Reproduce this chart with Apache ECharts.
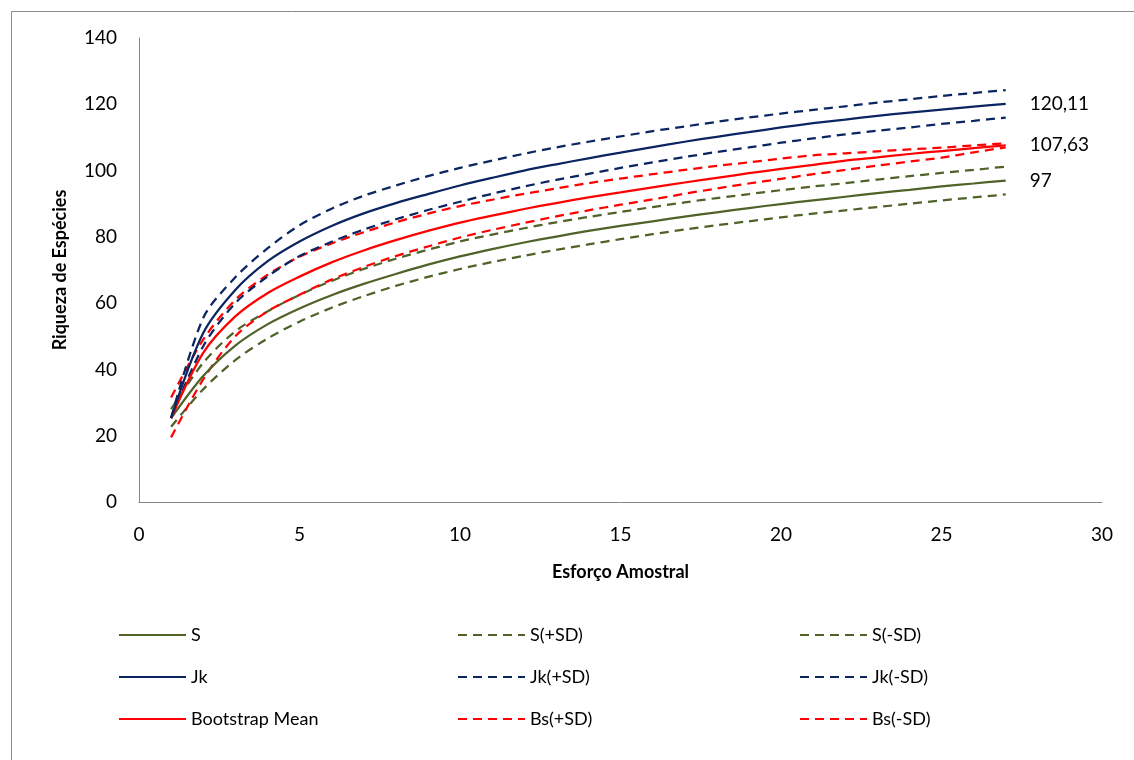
<!DOCTYPE html>
<html>
<head>
<meta charset="utf-8">
<script src="https://cdn.jsdelivr.net/npm/echarts@6/dist/echarts.min.js"></script>
<style>
html,body{margin:0;padding:0;background:#fff;}
#chart{width:1134px;height:760px;}
</style>
</head>
<body>
<div id="chart"></div>
<script>
const xs = [1,2,3,4,5,6,7,8,9,10,11,12,13,14,15,16,17,18,19,20,21,22,23,24,25,26,27];
const S   = [25.3,38.0,47.2,53.6,58.4,62.4,65.8,68.8,71.6,74.1,76.3,78.3,80.1,81.8,83.3,84.7,86.1,87.4,88.7,89.9,91.0,92.1,93.2,94.2,95.2,96.1,97.0];
const SP  = [28.0,42.0,51.5,57.5,62.5,66.7,70.3,73.4,76.1,78.6,80.7,82.6,84.4,86.0,87.5,89.0,90.4,91.7,92.9,94.1,95.2,96.2,97.3,98.3,99.3,100.2,101.2];
const SM  = [22.7,34.0,42.8,49.3,54.4,58.6,62.1,65.2,67.9,70.3,72.4,74.3,76.1,77.7,79.3,80.8,82.2,83.5,84.7,85.9,87.0,88.0,89.0,90.0,91.0,91.9,92.8];
const Jk  = [25.3,51.0,64.0,72.6,78.6,83.3,87.1,90.2,92.9,95.5,97.8,100.0,101.9,103.7,105.4,107.1,108.7,110.2,111.6,113.0,114.3,115.4,116.5,117.5,118.4,119.3,120.11];
const JkP = [25.3,55.5,67.8,76.5,83.5,88.5,92.4,95.5,98.3,100.8,103.0,105.1,107.0,108.7,110.3,111.9,113.3,114.7,116.0,117.2,118.3,119.4,120.5,121.5,122.5,123.4,124.3];
const JkM = [25.3,47.0,60.0,68.0,74.2,78.5,82.2,85.3,88.1,90.6,93.0,95.2,97.2,99.0,100.8,102.5,104.1,105.6,107.0,108.4,109.7,110.9,112.0,113.0,114.1,115.0,116.0];
const Bs  = [25.3,45.0,56.0,63.0,68.0,72.3,75.9,79.0,81.8,84.3,86.4,88.4,90.2,91.9,93.4,94.9,96.4,97.8,99.2,100.5,101.7,103.0,104.0,105.0,105.9,106.8,107.63];
const BsP = [31.5,49.0,61.0,68.5,74.0,78.0,81.4,84.4,87.0,89.3,91.2,93.0,94.6,96.2,97.6,98.9,100.2,101.4,102.5,103.6,104.6,105.2,105.8,106.4,106.9,107.6,108.2];
const BsM = [19.5,37.0,50.0,57.5,62.5,67.1,70.9,74.2,77.1,79.8,82.1,84.2,86.2,88.0,89.7,91.3,93.0,94.6,96.1,97.5,98.9,100.2,101.5,102.7,103.9,105.5,107.0];
const endLabels = {S: '97', Jk: '120,11', Bootstrap: '107,63'};
const xTicks = {min: 0, max: 30, interval: 5};
const yTicks = {min: 0, max: 140, interval: 20};

const OLIVE = '#4F6228', NAVY = '#0B2561', RED = '#FF0000';
const FONT = 'Lato';
const dash = [9, 6];

function pts(arr){ return xs.map((x,i)=>[x, arr[i]]); }
function mk(name, arr, color, dashed, endLbl){
  const s = {
    name, type:'line', data: pts(arr), symbol:'none', smooth:0.3,
    lineStyle:{color, width:2.25, type: dashed ? dash : 'solid'},
    itemStyle:{color},
    emphasis:{disabled:true}
  };
  if (endLbl) s.endLabel = {show:true, formatter:endLbl, distance:24, color:'#000', fontFamily:FONT, fontSize:19};
  return s;
}

const chart = echarts.init(document.getElementById('chart'));
const legendBase = {
  orient:'vertical', itemWidth:67, itemHeight:14, itemGap:24, top:621,
  itemStyle:{opacity:0},
  textStyle:{fontFamily:FONT, fontSize:18, color:'#000'}, selectedMode:false
};
chart.setOption({
  animation:false,
  backgroundColor:'#fff',
  graphic:[{type:'rect', left:9, top:9, shape:{width:1200, height:800}, style:{fill:'none', stroke:'#8c8c8c', lineWidth:1}, silent:true}],
  grid:{left:139, right:32, top:38, bottom:258},
  xAxis:{type:'value', min:xTicks.min, max:xTicks.max, interval:xTicks.interval,
    name:'Esforço Amostral', nameLocation:'middle', nameGap:61,
    nameTextStyle:{fontFamily:FONT, fontSize:18, fontWeight:'bold', color:'#000'},
    axisLine:{show:true, lineStyle:{color:'#868686', width:1}}, axisTick:{show:false}, splitLine:{show:false},
    axisLabel:{margin:23, fontFamily:FONT, fontSize:19, color:'#000'}},
  yAxis:{type:'value', min:yTicks.min, max:yTicks.max, interval:yTicks.interval,
    name:'Riqueza de Espécies', nameLocation:'middle', nameGap:70,
    nameTextStyle:{fontFamily:FONT, fontSize:18, fontWeight:'bold', color:'#000'},
    axisLine:{show:true, lineStyle:{color:'#868686', width:1}}, axisTick:{show:false}, splitLine:{show:false},
    axisLabel:{margin:22, fontFamily:FONT, fontSize:19, color:'#000'}},
  legend:[
    Object.assign({}, legendBase, {left:113, data:['S','Jk','Bootstrap Mean']}),
    Object.assign({}, legendBase, {left:452, data:['S(+SD)','Jk(+SD)','Bs(+SD)']}),
    Object.assign({}, legendBase, {left:794, data:['S(-SD)','Jk(-SD)','Bs(-SD)']})
  ],
  series:[
    mk('S(+SD)', SP, OLIVE, true),
    mk('S(-SD)', SM, OLIVE, true),
    mk('Bs(+SD)', BsP, RED, true),
    mk('Bs(-SD)', BsM, RED, true),
    mk('Jk(+SD)', JkP, NAVY, true),
    mk('Jk(-SD)', JkM, NAVY, true),
    mk('S', S, OLIVE, false, endLabels.S),
    mk('Bootstrap Mean', Bs, RED, false, endLabels.Bootstrap),
    mk('Jk', Jk, NAVY, false, endLabels.Jk)
  ]
});
</script>
</body>
</html>
